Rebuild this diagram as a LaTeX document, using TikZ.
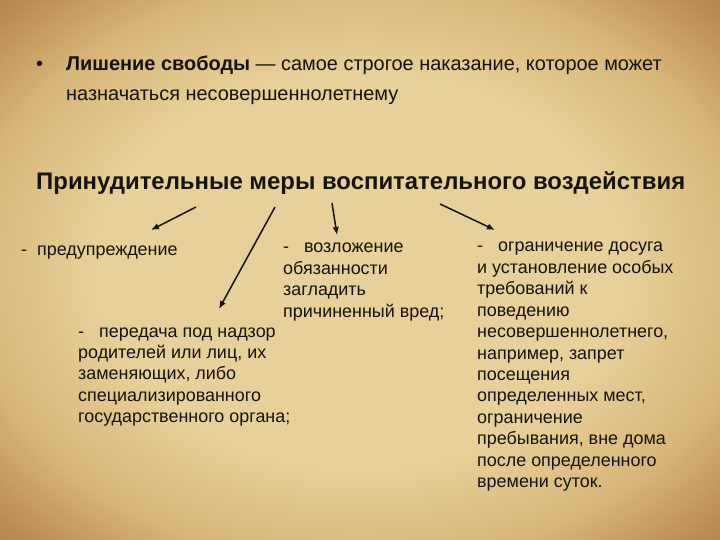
\documentclass[tikz,border=0pt]{standalone}
\usepackage{fontspec}
\setmainfont{Liberation Sans}
\usetikzlibrary{arrows.meta}

\definecolor{parchlight}{RGB}{232,208,154}
\definecolor{parchmid}{RGB}{216,182,122}
\definecolor{parchdark}{RGB}{186,140,82}
\definecolor{parchedge}{RGB}{140,96,50}
\definecolor{inkblack}{RGB}{22,18,12}

\pgfdeclareradialshading{vignette}{\pgfpoint{0bp}{0bp}}{%
  color(0bp)=(parchlight); color(18bp)=(parchlight); color(27bp)=(parchmid);
  color(34bp)=(parchdark); color(44bp)=(parchedge); color(50bp)=(parchedge)}

% lines of one text, first baseline on the anchor
\newcommand\measurelines[1]{\begin{tabular}[t]{@{}l@{}}#1\end{tabular}}

\begin{document}
\begin{tikzpicture}[x=1bp, y=-1bp,
    measure/.style={anchor=base west, inner sep=0pt, text=inkblack,
      font=\fontsize{18}{21.5}\selectfont},
    pointer/.style={-{Latex[length=8bp,width=6.5bp]}, line width=1.5bp, inkblack}]
    % Parchment background
    \shade[shading=vignette] (0,0) rectangle (720,540);
    \useasboundingbox (0,0) rectangle (720,540);

    % Bullet point
    \node[anchor=base west, inner sep=0pt, text=inkblack, font=\fontsize{20}{30}\selectfont]
        (dot) at (36,71) {•};
    \node[anchor=base west, inner sep=0pt, text=inkblack,
          font=\fontsize{20}{30}\selectfont] (deprivation) at (66,71)
        {\measurelines{\textbf{Лишение свободы} — самое строгое наказание, которое может\\
         назначаться несовершеннолетнему}};

    % Heading
    \node[anchor=base west, inner sep=0pt, text=inkblack,
          font=\fontsize{24}{28}\bfseries] (title) at (36,190)
        {Принудительные меры воспитательного воздействия};

    % Measures
    \node[measure] (warning) at (21,256) {-~~предупреждение};
    \node[measure] (duty) at (283,253)
        {\measurelines{-~~~возложение\\обязанности\\загладить\\причиненный вред;}};
    \node[measure] (supervision) at (78,337)
        {\measurelines{-~~~передача под надзор\\родителей или лиц, их\\заменяющих, либо\\
         специализированного\\государственного органа;}};
    \node[measure] (leisure) at (477,252)
        {\measurelines{-~~~ограничение досуга\\и установление особых\\требований к\\поведению\\
         несовершеннолетнего,\\например, запрет\\посещения\\определенных мест,\\
         ограничение\\пребывания, вне дома\\после определенного\\времени суток.}};

    % Arrows
    \coordinate (s1) at (196,207);
    \coordinate (e1) at (151,230);
    \coordinate (s2) at (275,207);
    \coordinate (e2) at (219,309);
    \coordinate (s3) at (332,203);
    \coordinate (e3) at (337,235);
    \coordinate (s4) at (440,204);
    \coordinate (e4) at (495,230);
    \draw[pointer] (s1) -- (e1);
    \draw[pointer] (s2) -- (e2);
    \draw[pointer] (s3) -- (e3);
    \draw[pointer] (s4) -- (e4);
\end{tikzpicture}
\end{document}
